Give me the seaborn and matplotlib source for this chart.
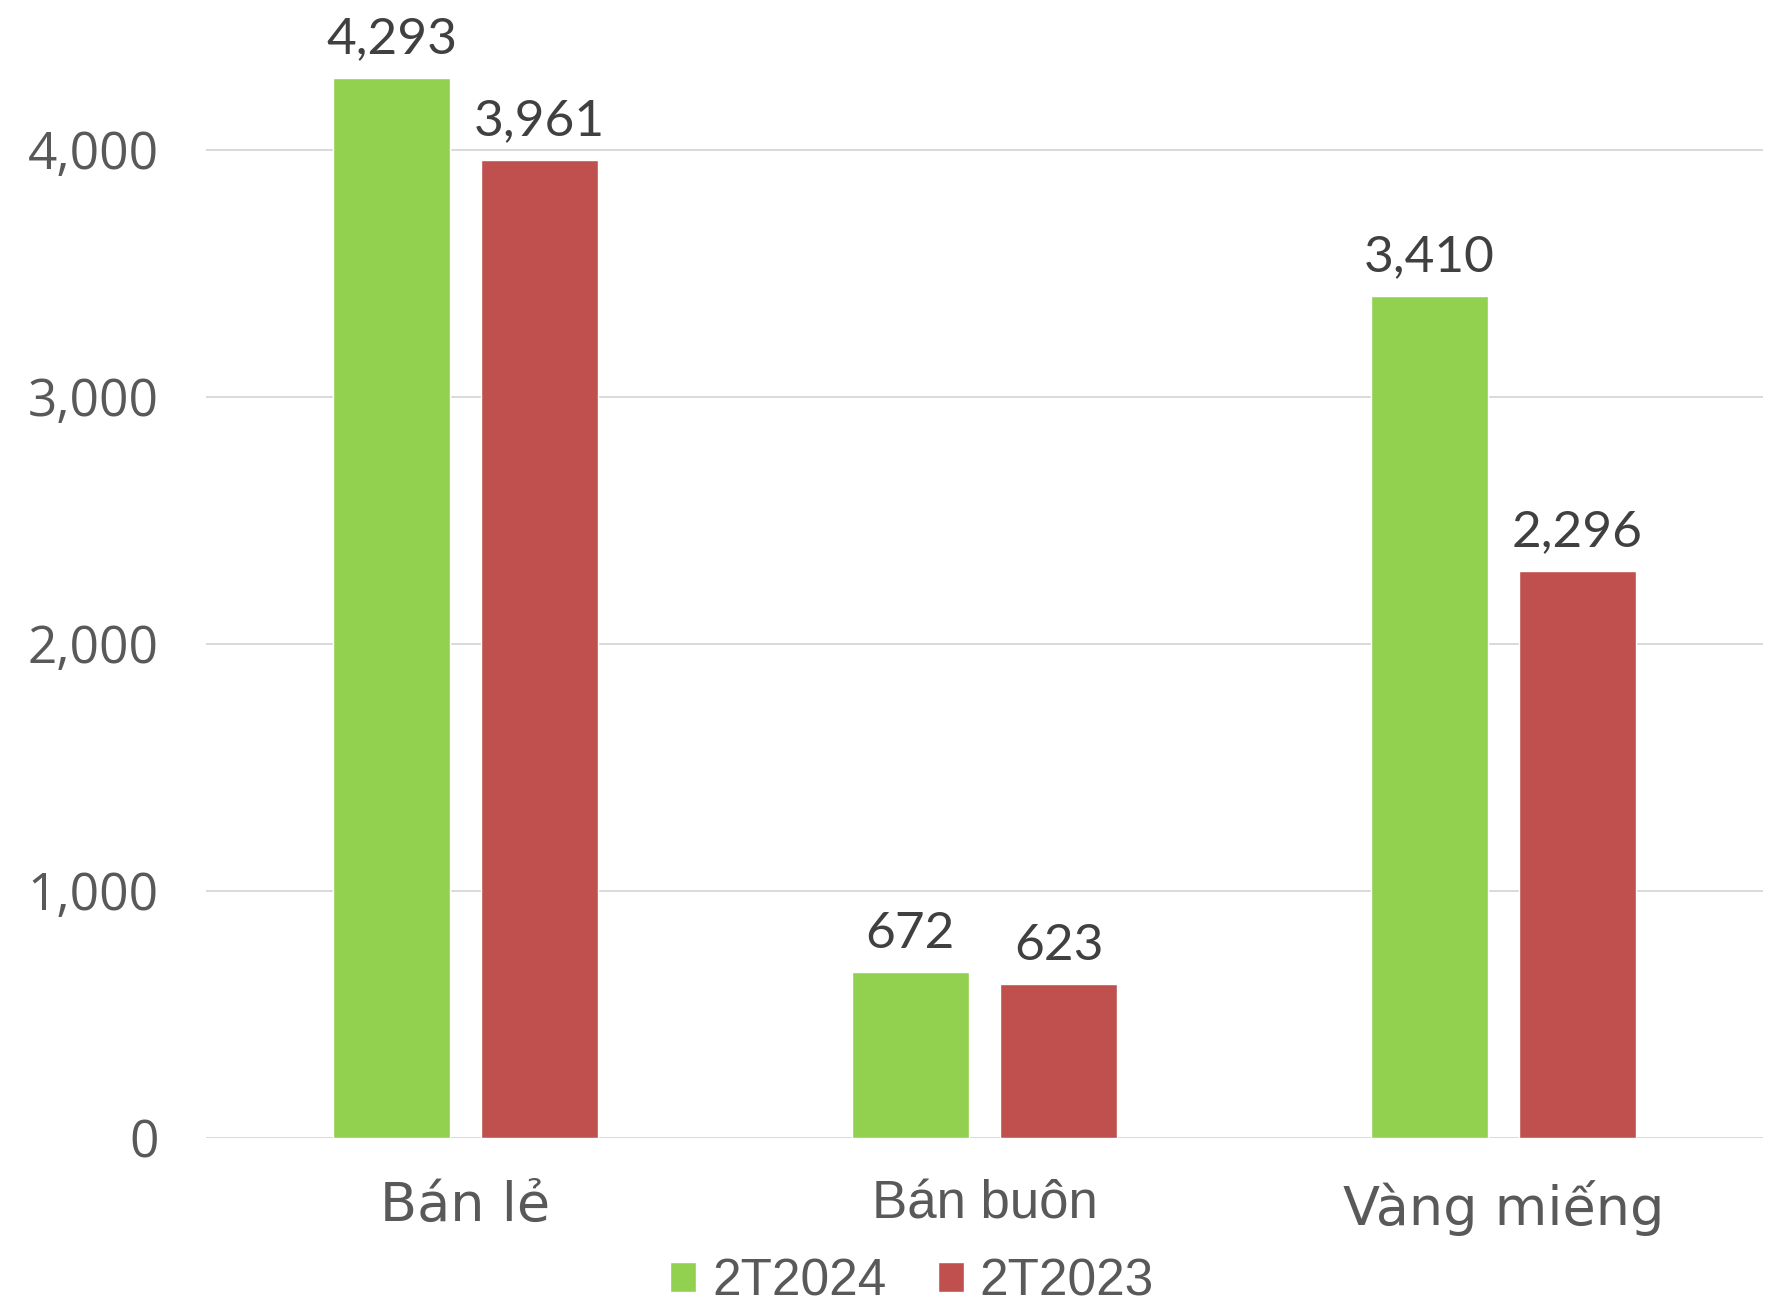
import matplotlib
matplotlib.use("Agg")
import matplotlib.pyplot as plt
import seaborn as sns
import pandas as pd

# Data
categories = ["Bán lẻ", "Bán buôn", "Vàng miếng"]
series_names = ["2T2024", "2T2023"]
values_2024 = [4293, 672, 3410]
values_2023 = [3961, 623, 2296]
colors = ["#92D050", "#C0504D"]

df = pd.DataFrame({
    "category": categories * 2,
    "period": [series_names[0]] * 3 + [series_names[1]] * 3,
    "value": values_2024 + values_2023,
})

sns.set_style("white")
fig = plt.figure(figsize=(17.74, 13.11), dpi=100)
ax = fig.add_axes([206 / 1774, 1 - 1138 / 1311, (1763 - 206) / 1774, 1138 / 1311])

sns.barplot(data=df, x="category", y="value", hue="period", palette=colors,
            width=0.571, gap=0.215, saturation=1, ax=ax, errorbar=None)

ax.set_ylim(0, 4607)
ax.set_xlim(-0.5, 2.5)
ax.set_yticks([0, 1000, 2000, 3000, 4000])
ax.set_yticklabels([f"{t:,}" for t in [0, 1000, 2000, 3000, 4000]],
                   fontfamily="Open Sans", fontsize=37, color="#595959")
ax.yaxis.grid(True, color="#D9D9D9", linewidth=1.4)
ax.set_axisbelow(True)
for s in ax.spines.values():
    s.set_visible(False)
ax.tick_params(axis="both", length=0)
ax.tick_params(axis="y", pad=34)
ax.tick_params(axis="x", pad=30)
ax.set_xlabel("")
ax.set_ylabel("")

ax.set_xticks(range(len(categories)))
ax.set_xticklabels(categories, fontsize=39, color="#595959")
for lbl in ax.get_xticklabels():
    if lbl.get_text() == "Bán buôn":
        lbl.set_fontfamily("Liberation Sans")
        lbl.set_fontsize(38)
    else:
        lbl.set_fontfamily("DejaVu Sans")

for cont in ax.containers:
    ax.bar_label(cont, labels=[f"{v:,.0f}" for v in cont.datavalues],
                 padding=11, fontsize=37, fontfamily="Lato", color="#404040")

handles, labels = ax.get_legend_handles_labels()
ax.legend(handles, labels, loc="center", bbox_to_anchor=(0.514, 1 - 1282 / 1311),
          bbox_transform=fig.transFigure, ncol=2, frameon=False,
          prop={"family": "Liberation Sans", "size": 37},
          handlelength=0.52, handleheight=0.52, handletextpad=0.3,
          columnspacing=1.0, borderpad=0.2, labelcolor="#595959")

fig.savefig("out.png", dpi=100)
